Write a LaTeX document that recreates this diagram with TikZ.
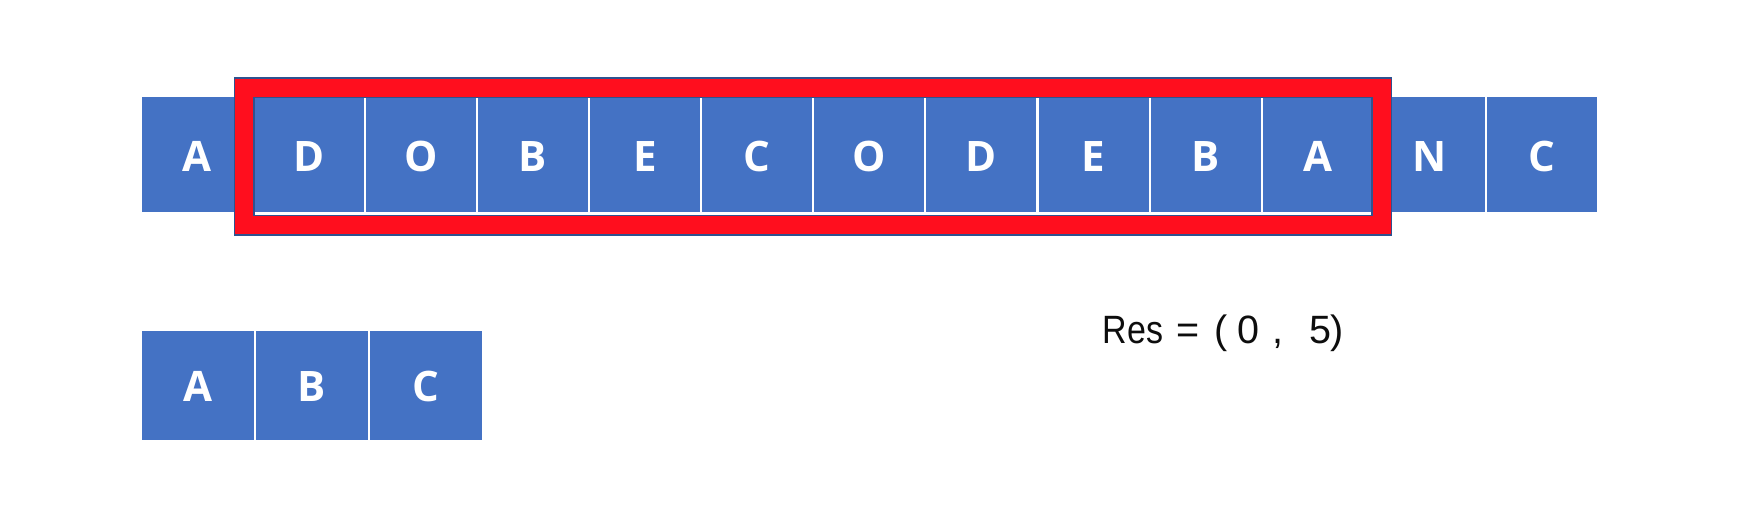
\documentclass[tikz,border=0pt]{standalone}
\usepackage{graphicx}
\usepackage{fontspec}
\newfontfamily\cellfont{Open Sans}
\newfontfamily\resfont{Liberation Sans}
\definecolor{cellblue}{RGB}{68,114,196}
\definecolor{framered}{RGB}{255,14,30}
\definecolor{framedark}{RGB}{47,82,143}
\begin{document}
\begin{tikzpicture}[x=1pt,y=-1pt,
  cell/.style={fill=cellblue, draw=none, inner sep=0pt, outer sep=0pt, anchor=north west,
    text=white, font=\cellfont\bfseries\fontsize{42}{42}\selectfont,
    text height=33pt, text depth=0pt},
  topcell/.style={cell, minimum width=110pt, minimum height=115pt},
  botcell/.style={cell, minimum width=112pt, minimum height=109.3pt},
  frameouter/.style={draw=framedark, line width=21pt},
  frameinner/.style={draw=framered, line width=18pt}]
\useasboundingbox (0,0) rectangle (1760,524);
% top row
\foreach \l [count=\i from 0] in {A,D,O,B,E,C,O,D,E,B,A,N,C}
  \node[topcell] (t\i) at ({141.7+112.1*\i},97) {\l};
% red frame
\draw[frameouter] (244.2,88) rectangle (1381.7,225.2);
\draw[frameinner] (244.2,88) rectangle (1381.7,225.2);
% bottom row
\node[botcell] (b0) at (141.7,330.7) {A};
\node[botcell] (b1) at (256,330.7) {B};
\node[botcell] (b2) at (370.3,330.7) {C};
% result text
\node[anchor=base west, inner sep=0pt, text={rgb,255:red,13;green,13;blue,13},
  font=\resfont\fontsize{39.5}{40}\selectfont] (res) at (1102.5,343.3)
  {\scalebox{0.86}[1]{Res}\hspace{12.9pt}=\hspace{15.8pt}(\hspace{9.4pt}0\hspace{13.4pt},\hspace{25.7pt}5\hspace{-0.8pt})};
\end{tikzpicture}
\end{document}
